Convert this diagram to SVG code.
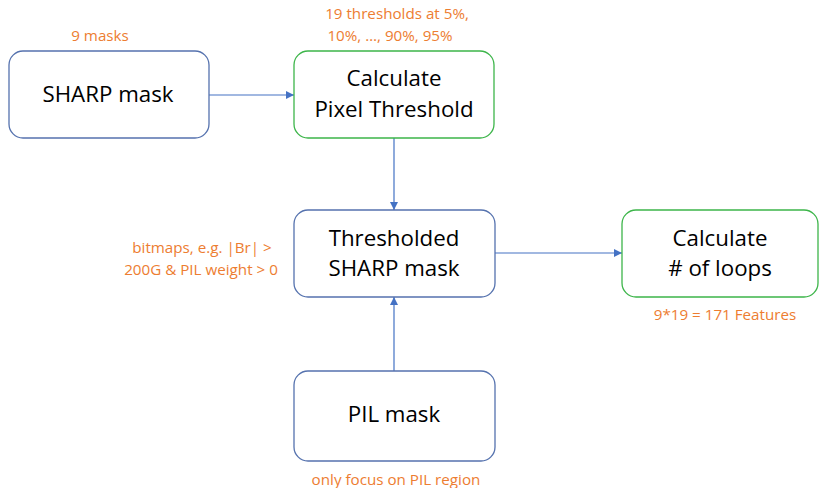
<svg xmlns="http://www.w3.org/2000/svg" width="819" height="488" viewBox="0 0 819 488">
<defs>
<marker id="ah" viewBox="0 0 10 10" refX="10" refY="5" markerWidth="8" markerHeight="8" markerUnits="userSpaceOnUse" orient="auto">
<path d="M0,0 L10,5 L0,10 z" fill="#4472C4"/>
</marker>
<style>
.box{fill:#fff;stroke-width:1.3}
.b{stroke:#5572AE}
.g{stroke:#3DB54A}
.t{font-family:"Open Sans","Liberation Sans",sans-serif;font-size:22.3px;fill:#000;text-anchor:middle}
.o{font-family:"Open Sans","Liberation Sans",sans-serif;font-size:15.2px;fill:#ED7D31;text-anchor:middle}
.c{stroke:#4472C4;stroke-width:1.2;fill:none;marker-end:url(#ah)}
</style>
</defs>
<rect width="819" height="488" fill="#fff"/>
<g id="connectors">
<line class="c" x1="209" y1="95" x2="294" y2="95"/>
<line class="c" x1="394" y1="138" x2="394" y2="210"/>
<line class="c" x1="394" y1="371" x2="394" y2="297"/>
<line class="c" x1="495" y1="253" x2="622" y2="253"/>
</g>
<g id="sharp">
<rect class="box b" x="9" y="51" width="200" height="87" rx="14"/>
<text class="t" x="108" y="102">SHARP mask</text>
<text class="o" x="100" y="41">9 masks</text>
</g>
<g id="calc-threshold">
<rect class="box g" x="294" y="51" width="200" height="87" rx="14"/>
<text class="t" x="394" y="86">Calculate</text>
<text class="t" x="394" y="117">Pixel Threshold</text>
<text class="o" x="397" y="19">19 thresholds at 5%,</text>
<text class="o" x="390" y="41">10%, …, 90%, 95%</text>
</g>
<g id="thresholded">
<rect class="box b" x="294" y="210" width="201" height="87" rx="14"/>
<text class="t" x="394" y="246">Thresholded</text>
<text class="t" x="394" y="276">SHARP mask</text>
<text class="o" x="202" y="253">bitmaps, e.g. |Br| &gt;</text>
<text class="o" x="201" y="275">200G &amp; PIL weight &gt; 0</text>
</g>
<g id="loops">
<rect class="box g" x="622" y="210" width="196" height="87" rx="14"/>
<text class="t" x="720" y="246">Calculate</text>
<text class="t" x="720" y="276"># of loops</text>
<text class="o" x="725" y="320">9*19 = 171 Features</text>
</g>
<g id="pil">
<rect class="box b" x="294" y="371" width="201" height="90" rx="14"/>
<text class="t" x="394" y="422">PIL mask</text>
<text class="o" x="396" y="485">only focus on PIL region</text>
</g>
</svg>
